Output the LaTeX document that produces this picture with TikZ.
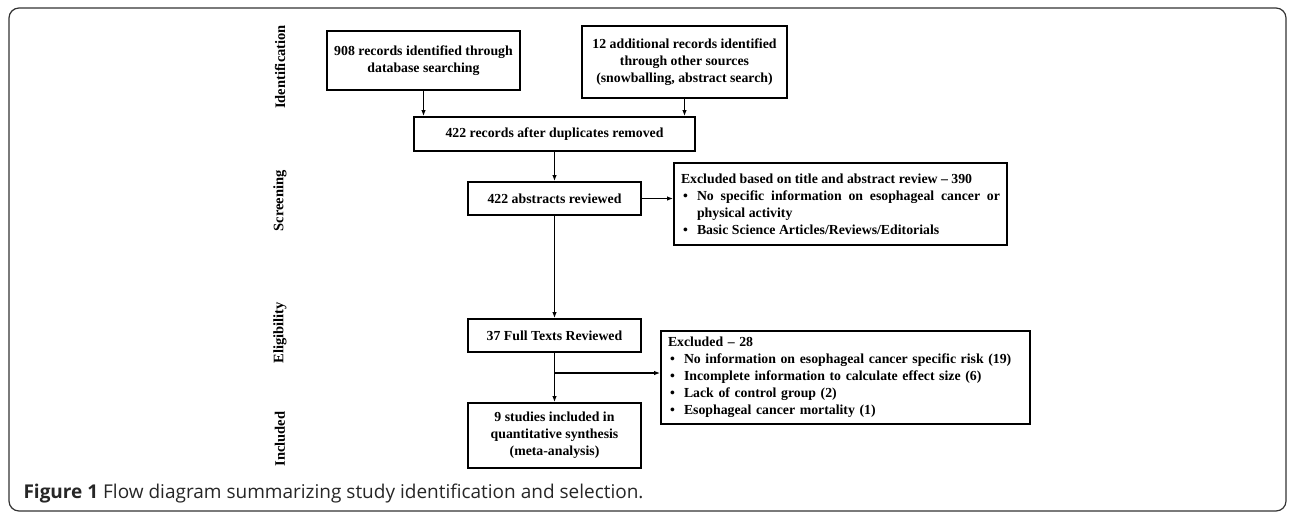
\documentclass[tikz,border=0pt]{standalone}
\usepackage{fontspec}
\setmainfont{Liberation Serif}
\newfontfamily\capfont{Open Sans}
\usetikzlibrary{arrows.meta,calc}

\newcommand{\boxtext}{\fontsize{13.8}{17}\selectfont\bfseries}
\newcommand{\phasetext}{\fontsize{14.5}{16}\selectfont\bfseries}
\newcommand{\exitem}[1]{\par\hangindent=16pt\hangafter=1\noindent\makebox[16pt][l]{\hspace{2pt}\textbullet}#1}

\tikzset{
	flowbox/.style={draw, line width=1.8pt, align=center, inner sep=0pt, font=\boxtext},
	exclbox/.style={draw, line width=1.8pt, inner sep=0pt, font=\boxtext},
	phase/.style={rotate=90, font=\phasetext},
	flow/.style={line width=1.3pt, -{Latex[length=6pt,width=4.5pt]}}
}

\begin{document}
\begin{tikzpicture}[x=1pt, y=-1pt]
			%%%%% START %%%%%
			
			\useasboundingbox (0, 0) rectangle (1290, 514);
			\draw[line width=1.2pt, color=black!80, rounded corners=10pt] (9, 8) rectangle (1286, 511);
			
			\node[phase] (lblident) at (280, 67) {Identification};
			\node[phase] (lblscreen) at (280, 201) {Screening};
			\node[phase] (lblelig) at (280, 333) {Eligibility};
			\node[phase] (lblincl) at (280, 439) {Included};
			
			\node[flowbox, minimum width=193pt, minimum height=59pt] (box1) at (423.5, 60.5) {908 records identified through\\database searching};
			\node[flowbox, minimum width=205pt, minimum height=72pt] (box2) at (684.5, 62) {12 additional records identified\\through other sources\\(snowballing, abstract search)};
			\node[flowbox, minimum width=281pt, minimum height=34pt] (box3) at (554.5, 134) {422 records after duplicates removed};
			\node[flowbox, minimum width=173pt, minimum height=33pt] (box4) at (554.5, 198.5) {422 abstracts reviewed};
			\node[flowbox, minimum width=173pt, minimum height=33pt] (box5) at (554.5, 335.5) {37 Full Texts Reviewed};
			\node[flowbox, minimum width=173pt, minimum height=65pt] (box6) at (554.5, 435.5) {9 studies included in\\quantitative synthesis\\(meta-analysis)};
			
			\node[exclbox, minimum width=333pt, minimum height=82pt, text width=319pt, align=justify] (excl1) at (840.5, 204) {Excluded based on title and abstract review -- 390
				\exitem{No specific information on esophageal cancer or\linebreak physical activity}
				\exitem{Basic Science Articles/Reviews/Editorials}};
			\node[exclbox, minimum width=369pt, minimum height=93pt, text width=355pt, align=left] (excl2) at (845.5, 377.5) {Excluded -- 28
				\exitem{No information on esophageal cancer specific risk (19)}
				\exitem{Incomplete information to calculate effect size (6)}
				\exitem{Lack of control group (2)}
				\exitem{Esophageal cancer mortality (1)}};
			
			\draw[flow] (box1.south) -- (box1.south |- box3.north);
			\draw[flow] (box2.south) -- (box2.south |- box3.north);
			\draw[flow] (box3.south) -- (box4.north);
			\draw[flow] (box4.east) -- (box4.east -| excl1.west);
			\draw[flow] (box4.south) -- (box5.north);
			
			\coordinate (split) at (554.5, 373);
			\draw[flow] (box5.south) -- (box6.north);
			\draw[flow] (split) -- (split -| excl2.west);
			
			\node[anchor=base west, font=\capfont\fontsize{19}{23}\selectfont, text=black!85] (caption) at (20, 498) {\textbf{Figure 1} Flow diagram summarizing study identification and selection.};
			
			%%%%% END %%%%%
\end{tikzpicture}
\end{document}
